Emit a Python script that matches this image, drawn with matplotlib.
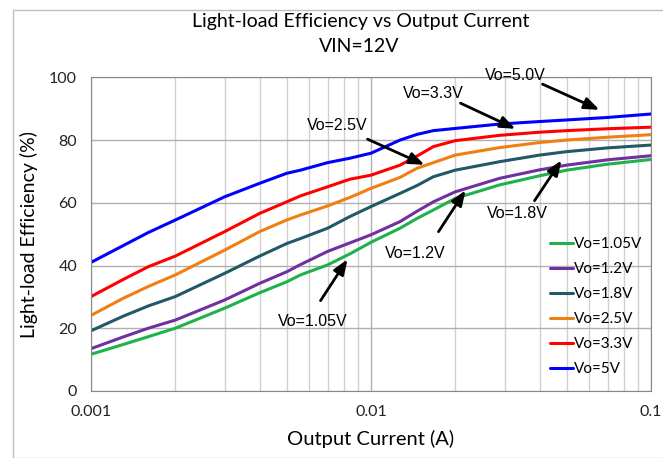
import numpy as np
import matplotlib.pyplot as plt
from matplotlib.patches import Rectangle

# output current (A)
current = [0.001, 0.0013, 0.0016, 0.002, 0.003, 0.004, 0.005, 0.0056, 0.007, 0.0084,
           0.01, 0.0127, 0.0146, 0.0167, 0.02, 0.0288, 0.04, 0.05, 0.07, 0.1]

eff_105 = [11.7, 14.8, 17.3, 20.0, 26.4, 31.3, 34.8, 37.0, 40.2, 43.7,
           47.4, 51.9, 55.0, 57.7, 61.4, 65.7, 68.6, 70.4, 72.3, 73.8]
eff_12 = [13.5, 17.2, 20.0, 22.6, 29.0, 34.3, 38.0, 40.3, 44.5, 47.2,
          49.8, 54.0, 57.3, 60.3, 63.5, 67.8, 70.5, 72.0, 73.7, 75.0]
eff_18 = [19.2, 23.8, 27.1, 30.1, 37.5, 43.0, 47.0, 48.6, 51.9, 55.6,
          58.8, 63.0, 65.5, 68.3, 70.4, 73.1, 75.2, 76.3, 77.5, 78.4]
eff_25 = [24.1, 29.5, 33.3, 37.0, 44.9, 50.8, 54.5, 56.1, 59.0, 61.7,
          64.6, 68.1, 71.0, 72.8, 75.2, 77.6, 79.2, 80.0, 80.9, 81.7]
eff_33 = [30.1, 35.5, 39.6, 43.0, 50.8, 56.6, 60.3, 62.2, 65.1, 67.5,
          68.8, 72.0, 74.9, 77.9, 79.8, 81.5, 82.5, 83.0, 83.6, 84.1]
eff_50 = [41.0, 46.3, 50.5, 54.5, 61.9, 66.2, 69.4, 70.4, 72.8, 74.2,
          75.8, 80.0, 81.8, 83.0, 83.7, 85.1, 85.9, 86.4, 87.2, 88.3]

labels = ["Vo=1.05V", "Vo=1.2V", "Vo=1.8V", "Vo=2.5V", "Vo=3.3V", "Vo=5V"]
colors = ["#1fb14c", "#7030a0", "#215967", "#f07f12", "#ff0000", "#0000ff"]

fig = plt.figure(figsize=(6.63, 4.58), dpi=100)
fig.patches.append(Rectangle((13 / 663, 0), 1, 1 - 10 / 458, transform=fig.transFigure,
                             fill=False, edgecolor="#bfbfbf", lw=1))
ax = fig.add_axes([91 / 663, 67 / 458, 560 / 663, 313.7 / 458])

for y, lab, c in zip([eff_105, eff_12, eff_18, eff_25, eff_33, eff_50], labels, colors):
    ax.plot(current, y, color=c, lw=2.2, label=lab, solid_capstyle="round", solid_joinstyle="round")

ax.set_xscale("log")
ax.set_xlim(0.001, 0.1)
ax.set_ylim(0, 100)
ax.set_yticks([0, 20, 40, 60, 80, 100])
ax.set_xticks([0.001, 0.01, 0.1])
ax.set_xticklabels(["0.001", "0.01", "0.1"])
ax.grid(True, which="major", color="#b0b0b0", lw=1)
ax.grid(True, which="minor", axis="x", color="#d0d0d0", lw=1)
ax.tick_params(which="both", length=0, labelsize=11.5, colors="#222222")
ax.tick_params(axis="x", pad=10)
ax.tick_params(axis="y", pad=10)
for t in ax.get_xticklabels() + ax.get_yticklabels():
    t.set_family("Lato")
for s in ax.spines.values():
    s.set_color("#888888")

ax.set_xlabel("Output Current (A)", fontsize=14.5, family="Lato", labelpad=8)
ax.set_ylabel("Light-load Efficiency (%)", fontsize=14, family="Lato", labelpad=8)
fig.text(361 / 663, 1 - 22 / 458, "Light-load Efficiency vs Output Current",
         ha="center", va="center", fontsize=14, family="Lato")
fig.text(359 / 663, 1 - 47 / 458, "VIN=12V", ha="center", va="center",
         fontsize=14, family="Lato")

# annotations: text (pixel) and arrow tip (pixel)
def px2data(px, py):
    return 10 ** (-3 + (px - 91) / 280), (391 - py) / 3.137

notes = [
    ("Vo=5.0V", (515, 75), (540, 83), (602, 111)),
    ("Vo=3.3V", (433, 94), (458, 102), (518, 130)),
    ("Vo=2.5V", (337, 125), (365, 138), (427, 166)),
    ("Vo=1.8V", (517, 214), (533, 203), (563, 158)),
    ("Vo=1.2V", (415, 253), (437, 234), (467, 188)),
    ("Vo=1.05V", (313, 321), (319, 303), (349, 257)),
]
for txt, tpos, a0, a1 in notes:
    ax.text(*px2data(*tpos), txt, ha="center", va="center", fontsize=11.5, family="Liberation Sans")
    ax.annotate("", xy=px2data(*a1), xytext=px2data(*a0),
                arrowprops=dict(arrowstyle="-|>,head_length=0.9,head_width=0.35", color="black", lw=2))

leg = ax.legend(loc="lower right", frameon=False, handlelength=1.5,
                labelspacing=0.72, handletextpad=0.1, borderaxespad=0.15,
                bbox_to_anchor=(1.0, 0.02), prop={"family": "Lato", "size": 11})

fig.savefig("out.png", dpi=100)
